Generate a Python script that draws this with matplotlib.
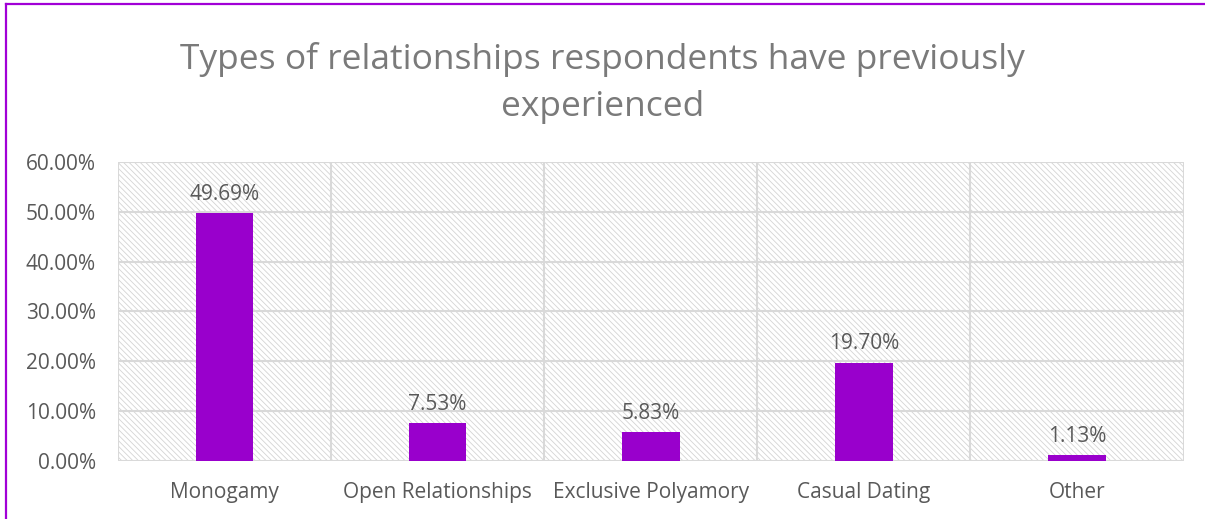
import matplotlib
matplotlib.use("Agg")
import matplotlib.pyplot as plt
from matplotlib.lines import Line2D

categories = ["Monogamy", "Open Relationships", "Exclusive Polyamory", "Casual Dating", "Other"]
values = [49.69, 7.53, 5.83, 19.70, 1.13]
yticks = [0, 10, 20, 30, 40, 50, 60]
title = "Types of relationships respondents have previously\nexperienced"

plt.rcParams["font.family"] = ["Open Sans", "DejaVu Sans"]
plt.rcParams["hatch.color"] = "#d4d4d4"
plt.rcParams["hatch.linewidth"] = 0.6

fig = plt.figure(figsize=(12.05, 5.19), dpi=100)
ax = fig.add_axes([0.0979, 0.1118, 0.9822 - 0.0979, 0.6879 - 0.1118])

grid_c = "#d9d9d9"
text_c = "#595959"
bar_c = "#9900cc"

ax.patch.set_facecolor("white")
ax.patch.set_hatch("\\" * 6)
ax.patch.set_edgecolor("#d4d4d4")

x = list(range(len(categories)))
bars = ax.bar(x, values, width=0.27, color=bar_c, zorder=3)

ax.set_xlim(-0.5, len(categories) - 0.5)
ax.set_ylim(0, 60)
ax.set_yticks(yticks)
ax.set_yticklabels([f"{v:.2f}%" for v in yticks])
ax.set_xticks(x)
ax.set_xticklabels(categories)
ax.tick_params(length=0, labelsize=15, colors=text_c)
ax.tick_params(axis="y", pad=16)
ax.tick_params(axis="x", pad=15)

for v in yticks:
    ax.axhline(v, color=grid_c, lw=1.5, zorder=1)
for b in [i + 0.5 for i in range(-1, len(categories))]:
    ax.axvline(b, color=grid_c, lw=1.5, zorder=1)
for s in ax.spines.values():
    s.set_visible(False)

for xi, v in zip(x, values):
    ax.annotate(f"{v:.2f}%", (xi, v), xytext=(0, 6), textcoords="offset points",
                ha="center", va="bottom", fontsize=15, color=text_c, zorder=4)

fig.text(0.5, 0.84, title, ha="center", va="center", fontsize=25.5,
         color="#7a7a7a", linespacing=1.5)

# outer frame: left and top edges
fig.add_artist(Line2D([6 / 1205, 6 / 1205], [0, 1 - 4 / 519], transform=fig.transFigure,
                      color="#a100d6", lw=1.6))
fig.add_artist(Line2D([6 / 1205, 1], [1 - 4 / 519, 1 - 4 / 519], transform=fig.transFigure,
                      color="#a100d6", lw=1.6))

fig.savefig("out.png", dpi=100, facecolor="white")
